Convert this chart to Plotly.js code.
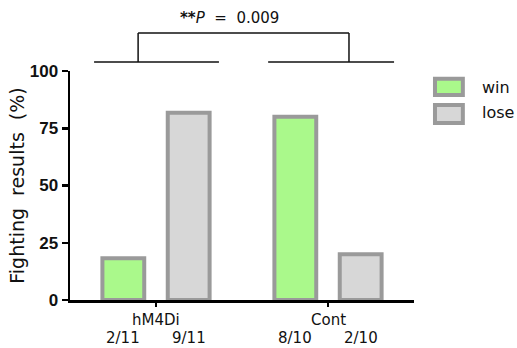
<!DOCTYPE html>
<html><head><meta charset="utf-8">
<script src="https://cdn.plot.ly/plotly-3.0.1.min.js"></script>
<style>html,body{margin:0;padding:0;background:#fff}</style>
</head><body><div id="chart" style="width:517px;height:348px"></div>
<script>
const categories = ['hM4Di', 'Cont'];
const seriesNames = ['win', 'lose'];
const winValues = [18.18, 80];
const loseValues = [81.82, 20];
const winCounts = ['2/11', '8/10'];
const loseCounts = ['9/11', '2/10'];
const yTicks = [0, 25, 50, 75, 100];
const pText = '<b>**</b><i>P</i>&nbsp;&nbsp;=&nbsp;&nbsp;0.009';
const yTitle = 'Fighting&nbsp;&nbsp;results&nbsp;&nbsp;(%)';

const fills = ['#aaf98b', '#d7d7d7'];
const edge = '#9a9a9a';
const lblFont = '"DejaVu Sans", sans-serif';

const traces = [winValues, loseValues].map((vals, i) => ({
  type: 'bar', x: categories, y: vals, name: seriesNames[i],
  marker: {color: fills[i], line: {color: edge, width: 4}},
  showlegend: false, hoverinfo: 'skip'
}));

const annotations = [];
const offs = [-0.19, 0.19];
categories.forEach((c, k) => {
  annotations.push({x: k, xref: 'x', y: -0.088, yref: 'paper', yanchor: 'middle',
    text: c, showarrow: false, font: {family: lblFont, size: 15, color: '#111'}});
  [winCounts[k], loseCounts[k]].forEach((t, j) => {
    annotations.push({x: k + offs[j], xref: 'x', y: -0.166, yref: 'paper', yanchor: 'middle',
      text: t, showarrow: false, font: {family: lblFont, size: 15, color: '#111'}});
  });
});
annotations.push({x: 0.465, xref: 'paper', y: 1.231, yref: 'paper', yanchor: 'middle', text: pText,
  showarrow: false, font: {family: lblFont, size: 15, color: '#111'}});

const shapes = [];
const L = {color: '#111', width: 1.5};
// bracket
shapes.push({type: 'line', xref: 'paper', yref: 'paper', x0: 0.198, x1: 0.811, y0: 1.166, y1: 1.166, line: L});
shapes.push({type: 'line', xref: 'paper', yref: 'paper', x0: 0.198, x1: 0.198, y0: 1.166, y1: 1.039, line: L});
shapes.push({type: 'line', xref: 'paper', yref: 'paper', x0: 0.811, x1: 0.811, y0: 1.166, y1: 1.039, line: L});
shapes.push({type: 'line', xref: 'paper', yref: 'paper', x0: 0.070, x1: 0.433, y0: 1.039, y1: 1.039, line: L});
shapes.push({type: 'line', xref: 'paper', yref: 'paper', x0: 0.576, x1: 0.942, y0: 1.039, y1: 1.039, line: L});
// custom legend
const legTop = [0.966, 0.852], legBot = [0.895, 0.773], legMid = [0.930, 0.817];
seriesNames.forEach((n, i) => {
  shapes.push({type: 'rect', xref: 'paper', yref: 'paper', x0: 1.061, x1: 1.142,
    y0: legBot[i], y1: legTop[i], fillcolor: fills[i], line: {color: edge, width: 4}});
  annotations.push({x: 1.193, xref: 'paper', y: legMid[i], yref: 'paper', xanchor: 'left', yanchor: 'middle',
    text: n, showarrow: false, font: {family: lblFont, size: 16, color: '#111'}});
});

const layout = {
  width: 517, height: 348,
  margin: {l: 70, r: 103, t: 71, b: 48},
  paper_bgcolor: '#fff', plot_bgcolor: '#fff',
  barmode: 'group', bargap: 0.24, bargroupgap: 0.36,
  xaxis: {type: 'category', range: [-0.5, 1.5], showline: true, linecolor: '#000', linewidth: 2.5,
    ticks: 'outside', ticklen: 4, tickwidth: 2, tickcolor: '#000', showgrid: false, zeroline: false,
    showticklabels: false, fixedrange: true},
  yaxis: {range: [0, 100], tickvals: yTicks, showline: true, linecolor: '#000', linewidth: 2.5,
    ticks: 'outside', ticklen: 6, tickwidth: 2.5, tickcolor: '#000', showgrid: false, zeroline: false,
    tickfont: {family: '"Liberation Sans", Arial, sans-serif', size: 17, color: '#111', weight: 'bold'},
    title: {text: yTitle, font: {family: lblFont, size: 19, color: '#111'}, standoff: 0},
    fixedrange: true},
  shapes: shapes, annotations: annotations,
  showlegend: false
};
Plotly.newPlot('chart', traces, layout, {displayModeBar: false, staticPlot: true});
</script></body></html>
